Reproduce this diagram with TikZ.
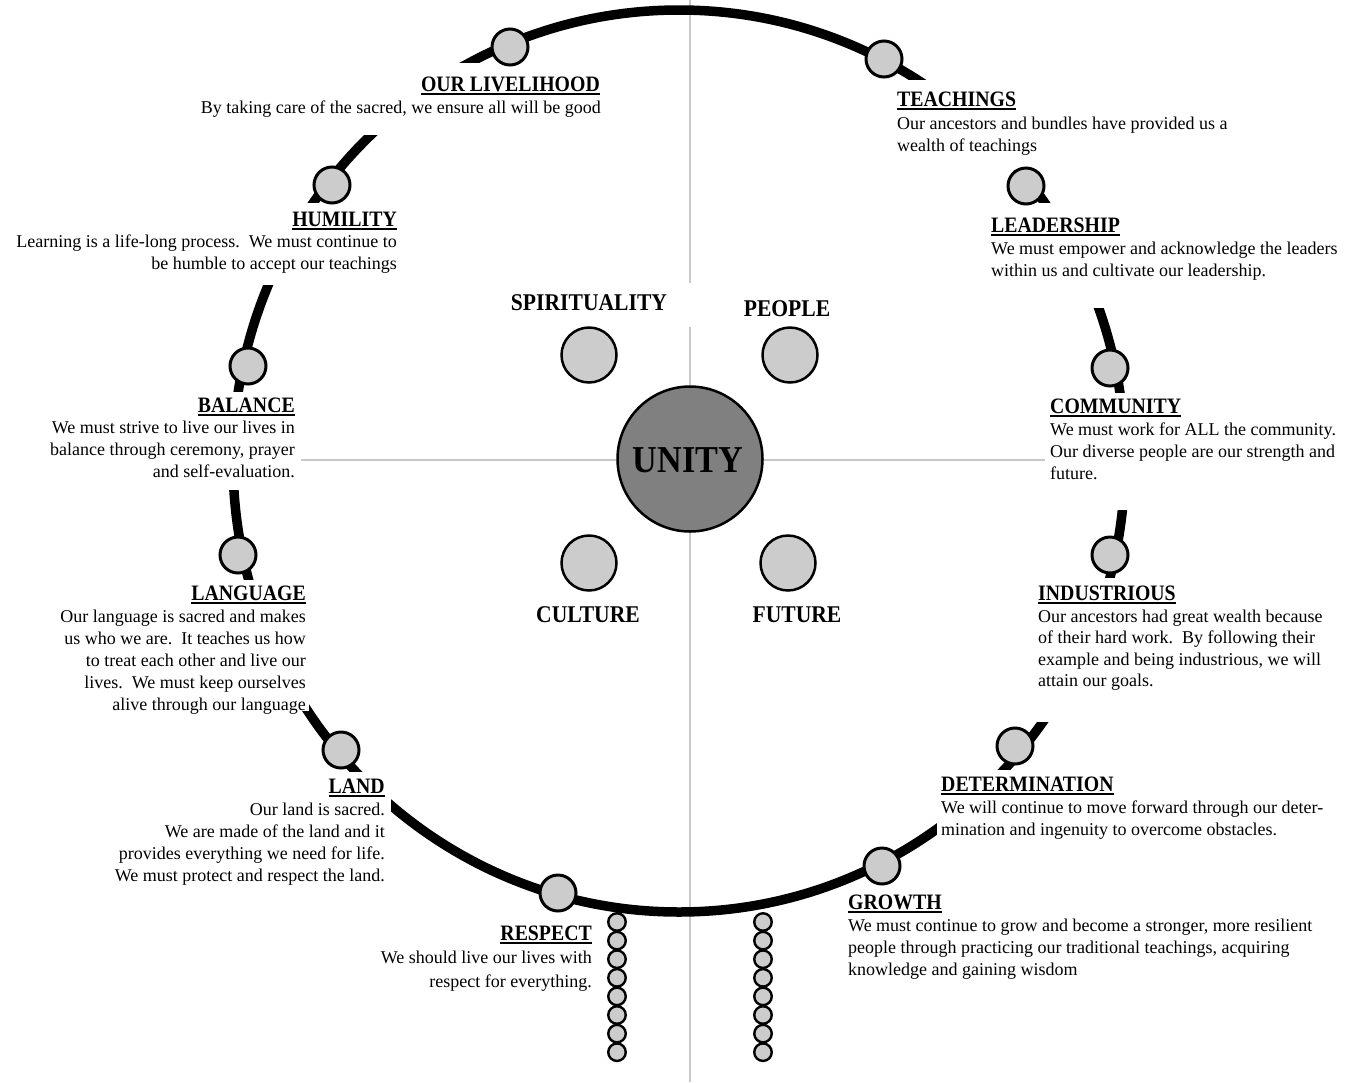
\documentclass[tikz,border=0pt]{standalone}
\usepackage{fontspec}
\setmainfont{Liberation Serif}
\newfontfamily\hdfont{Liberation Serif}[FakeStretch=0.9]
\definecolor{beadgray}{HTML}{CCCCCC}
\definecolor{unitygray}{HTML}{808080}
\definecolor{axisgray}{HTML}{C8C8C8}
\newcommand\myul[1]{\setbox0=\hbox{#1}\rlap{\rule[-4pt]{\wd0}{2pt}}\box0}
\newcommand\fs{\rule{0pt}{14pt}}
\begin{document}
\begin{tikzpicture}[x=1pt,y=-1pt,
  axis/.style={draw=axisgray, line width=2.6pt},
  ring/.style={draw=black, line width=9.5pt},
  cover/.style={fill=white},
  bead/.style={circle, draw=black, line width=3pt, fill=beadgray, minimum size=36pt, inner sep=0pt},
  sbead/.style={circle, draw=black, line width=2.4pt, fill=beadgray, minimum size=17.5pt, inner sep=0pt},
  mid/.style={circle, draw=black, line width=2.5pt, fill=beadgray, minimum size=55pt, inner sep=0pt},
  unityc/.style={circle, draw=black, line width=2.5pt, fill=unitygray, minimum size=145pt, inner sep=0pt},
  hd/.style={font=\hdfont\bfseries\fontsize{22}{26}\selectfont, inner sep=0pt},
  ctr/.style={font=\hdfont\bfseries\fontsize{24}{28}\selectfont, inner sep=0pt},
  body/.style={font=\fontsize{18}{22}\selectfont, inner sep=0pt},
]
\fill[white] (0,0) rectangle (1359,1082);
\useasboundingbox (0,0) rectangle (1359,1082);

% gray axes
\draw[axis] (690,0) -- (690,1082);
\draw[axis] (301,460) -- (1045,460);

% the ring
\draw[ring] (679,461) ellipse [x radius=446, y radius=451];

% white boxes behind the texts
\fill[cover] (190,63) rectangle (606,135);
\fill[cover] (5,203) rectangle (402,285);
\fill[cover] (35,392) rectangle (301,490);
\fill[cover] (50,580) rectangle (309,711);
\fill[cover] (240,772) rectangle (391,890);
\fill[cover] (350,918) rectangle (597,995);
\fill[cover] (893,80) rectangle (1240,170);
\fill[cover] (985,203) rectangle (1345,308);
\fill[cover] (1045,393) rectangle (1345,510);
\fill[cover] (1033,578) rectangle (1345,722);
\fill[cover] (937,770) rectangle (1310,842);
\fill[cover] (843,893) rectangle (1325,985);
\fill[cover] (505,283) rectangle (693,327);

% beads on the ring
\node[bead] (bLive) at (510,47) {};
\node[bead] (bTeach) at (884,59) {};
\node[bead] (bHum) at (332,185) {};
\node[bead] (bLead) at (1026,186) {};
\node[bead] (bBal) at (248,366) {};
\node[bead] (bComm) at (1110,368) {};
\node[bead] (bLang) at (238,555) {};
\node[bead] (bInd) at (1110,555) {};
\node[bead] (bLand) at (341,750) {};
\node[bead] (bDet) at (1015,746) {};
\node[bead] (bResp) at (558,893) {};
\node[bead] (bGrow) at (882,866) {};

% hanging strands
\foreach \i in {0,...,7} {
  \node[sbead] (sL\i) at (617,{922+18.6*\i}) {};
  \node[sbead] (sR\i) at (763,{922+18.6*\i}) {};
}

% centre
\node[mid] (cSpir) at (589,355) {};
\node[mid] (cPeop) at (790,355) {};
\node[mid] (cCult) at (589,563) {};
\node[mid] (cFut) at (788,563) {};
\node[unityc] (cUnity) at (690,459) {};
\node[font=\hdfont\bfseries\fontsize{38}{42}\selectfont, inner sep=0pt, anchor=base] (tUnity) at (688,472) {UNITY};
\node[ctr, anchor=base] (tSpir) at (589,310) {SPIRITUALITY};
\node[ctr, anchor=base] (tPeop) at (787,316) {PEOPLE};
\node[ctr, anchor=base] (tCult) at (588,622) {CULTURE};
\node[ctr, anchor=base] (tFut) at (797,622) {FUTURE};

% left side texts
\node[hd, anchor=base east] (hLive) at (600,91) {\myul{OUR LIVELIHOOD}};
\node[body, align=right, anchor=north east] (tLive) at (601,99) {\fs By taking care of the sacred, we ensure all will be good};

\node[hd, anchor=base east] (hHum) at (397,226) {\myul{HUMILITY}};
\node[body, align=right, anchor=north east] (tHum) at (397,233) {\fs Learning is a life-long process.\ \ We must continue to\\be humble to accept our teachings};

\node[hd, anchor=base east] (hBal) at (295,412) {\myul{BALANCE}};
\node[body, align=right, anchor=north east] (tBal) at (295,419) {\fs We must strive to live our lives in\\balance through ceremony, prayer\\and self-evaluation.};

\node[hd, anchor=base east] (hLang) at (306,600) {\myul{LANGUAGE}};
\node[body, align=right, anchor=north east] (tLang) at (306,608) {\fs Our language is sacred and makes\\us who we are.\ \ It teaches us how\\to treat each other and live our\\lives.\ \ We must keep ourselves\\alive through our language};

\node[hd, anchor=base east] (hLand) at (385,793) {\myul{LAND}};
\node[body, align=right, anchor=north east] (tLand) at (385,801) {\fs Our land is sacred.\\We are made of the land and it\\provides everything we need for life.\\We must protect and respect the land.};

\node[hd, anchor=base east] (hResp) at (592,940) {\myul{RESPECT}};
\node[body, font=\fontsize{18}{24}\selectfont, align=right, anchor=north east] (tResp) at (592,949) {\fs We should live our lives with\\respect for everything.};

% right side texts
\node[hd, anchor=base west] (hTeach) at (897,106) {\myul{TEACHINGS}};
\node[body, align=left, anchor=north west] (tTeach) at (897,115) {\fs Our ancestors and bundles have provided us a\\wealth of teachings};

\node[hd, anchor=base west] (hLead) at (991,232) {\myul{LEADERSHIP}};
\node[body, align=left, anchor=north west] (tLead) at (991,240) {\fs We must empower and acknowledge the leaders\\within us and cultivate our leadership.};

\node[hd, anchor=base west] (hComm) at (1050,413) {\myul{COMMUNITY}};
\node[body, align=left, anchor=north west] (tComm) at (1050,421) {\fs We must work for ALL the community.\\Our diverse people are our strength and\\future.};

\node[hd, anchor=base west] (hInd) at (1038,600) {\myul{INDUSTRIOUS}};
\node[body, font=\fontsize{18}{21.5}\selectfont, align=left, anchor=north west] (tInd) at (1038,608) {\fs Our ancestors had great wealth because\\of their hard work.\ \ By following their\\example and being industrious, we will\\attain our goals.};

\node[hd, anchor=base west] (hDet) at (941,791) {\myul{DETERMINATION}};
\node[body, align=left, anchor=north west] (tDet) at (941,799) {\fs We will continue to move forward through our deter-\\mination and ingenuity to overcome obstacles.};

\node[hd, anchor=base west] (hGrow) at (848,909) {\myul{GROWTH}};
\node[body, align=left, anchor=north west] (tGrow) at (848,917) {\fs We must continue to grow and become a stronger, more resilient\\people through practicing our traditional teachings, acquiring\\knowledge and gaining wisdom};
\end{tikzpicture}
\end{document}
